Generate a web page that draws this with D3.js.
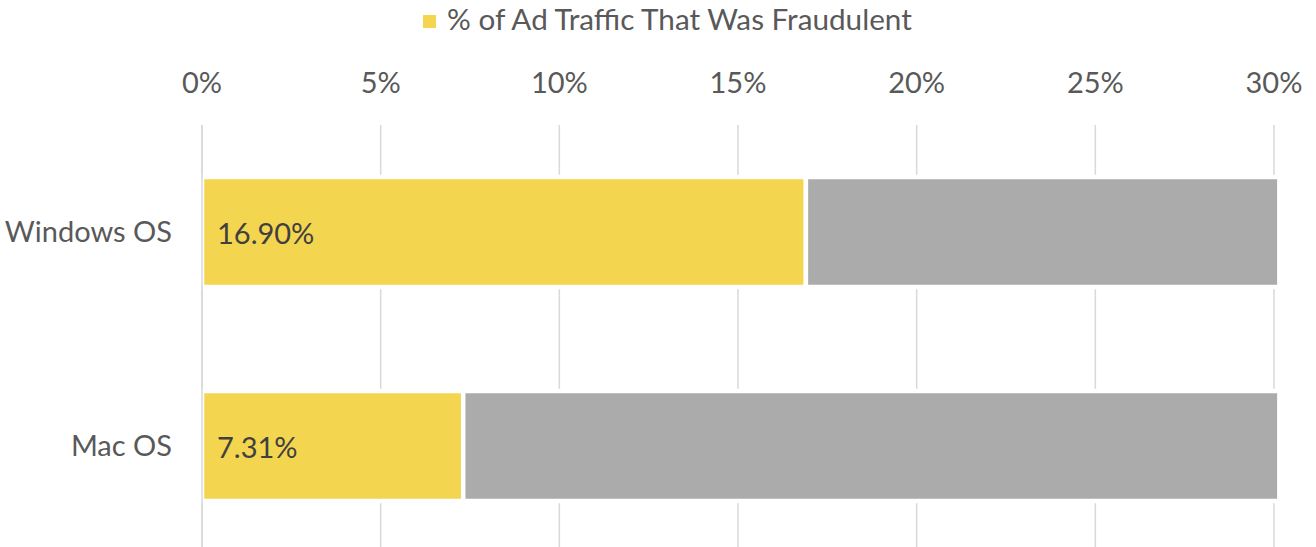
<!DOCTYPE html>
<html>
<head>
  <title>Ad Fraud by OS</title>
  <script src="https://d3js.org/d3.v7.min.js"></script>
  <style>
    body { margin: 0; background: #fff; }
    text { font-family: Lato, "Open Sans", sans-serif; }
  </style>
</head>
<body>
  <div id="chart"></div>
  <script>
// data
var categories = ["Windows OS", "Mac OS"];
var fraudulent = [16.90, 7.31];
var remainder = [13.25, 22.84];
var tickValues = [0, 5, 10, 15, 20, 25, 30];
var legendLabel = "% of Ad Traffic That Was Fraudulent";

var width = 1316, height = 547;
var plotTop = 125, plotBottom = 553;
var fontSize = "29px";

var svg = d3.select("#chart").append("svg")
  .attr("width", width)
  .attr("height", height);

var x = d3.scaleLinear().domain([0, 30]).range([202, 1274]);
var y = d3.scaleBand().domain(categories).range([plotTop, plotBottom])
  .paddingInner(0.486).paddingOuter(0.243);

// gridlines
svg.append("g").selectAll("line")
  .data(tickValues)
  .enter().append("line")
  .attr("x1", d => x(d)).attr("x2", d => x(d))
  .attr("y1", plotTop).attr("y2", plotBottom)
  .attr("stroke", "#d9d9d9")
  .attr("stroke-width", 1.5);

// top axis labels
svg.append("g").selectAll("text")
  .data(tickValues)
  .enter().append("text")
  .attr("x", d => x(d))
  .attr("y", 93)
  .attr("text-anchor", "middle")
  .attr("fill", "#595959")
  .style("font-size", fontSize)
  .text(d => d + "%");

var rows = categories.map((c, i) => ({ cat: c, a: fraudulent[i], b: remainder[i] }));

var bars = svg.append("g");
bars.selectAll(".fraud")
  .data(rows)
  .enter().append("rect")
  .attr("class", "fraud")
  .attr("x", x(0))
  .attr("y", d => y(d.cat))
  .attr("width", d => x(d.a) - x(0))
  .attr("height", y.bandwidth())
  .attr("fill", "#f4d550")
  .attr("stroke", "#fff")
  .attr("stroke-width", 4.5);

bars.selectAll(".rest")
  .data(rows)
  .enter().append("rect")
  .attr("class", "rest")
  .attr("x", d => x(d.a))
  .attr("y", d => y(d.cat))
  .attr("width", d => x(d.a + d.b) - x(d.a))
  .attr("height", y.bandwidth())
  .attr("fill", "#ababab")
  .attr("stroke", "#fff")
  .attr("stroke-width", 4.5);

// zero line stays visible over the bar outline
svg.append("line")
  .attr("x1", x(0)).attr("x2", x(0))
  .attr("y1", plotTop).attr("y2", plotBottom)
  .attr("stroke", "#d9d9d9")
  .attr("stroke-width", 1.5);

// value labels
svg.selectAll(".val")
  .data(rows)
  .enter().append("text")
  .attr("class", "val")
  .attr("x", x(0) + 15)
  .attr("y", d => y(d.cat) + y.bandwidth() / 2 + 12)
  .attr("fill", "#404040")
  .style("font-size", fontSize)
  .text(d => d.a.toFixed(2) + "%");

// category labels
svg.selectAll(".cat")
  .data(rows)
  .enter().append("text")
  .attr("class", "cat")
  .attr("x", 172)
  .attr("y", d => y(d.cat) + y.bandwidth() / 2 + 10)
  .attr("text-anchor", "end")
  .attr("fill", "#595959")
  .style("font-size", fontSize)
  .text(d => d.cat);

// legend
var legend = svg.append("g");
legend.append("rect")
  .attr("x", 423).attr("y", 15)
  .attr("width", 13).attr("height", 13)
  .attr("fill", "#f4d550");
legend.append("text")
  .attr("x", 447).attr("y", 30)
  .attr("fill", "#595959")
  .style("font-size", "29.7px")
  .text(legendLabel);
  </script>
</body>
</html>
